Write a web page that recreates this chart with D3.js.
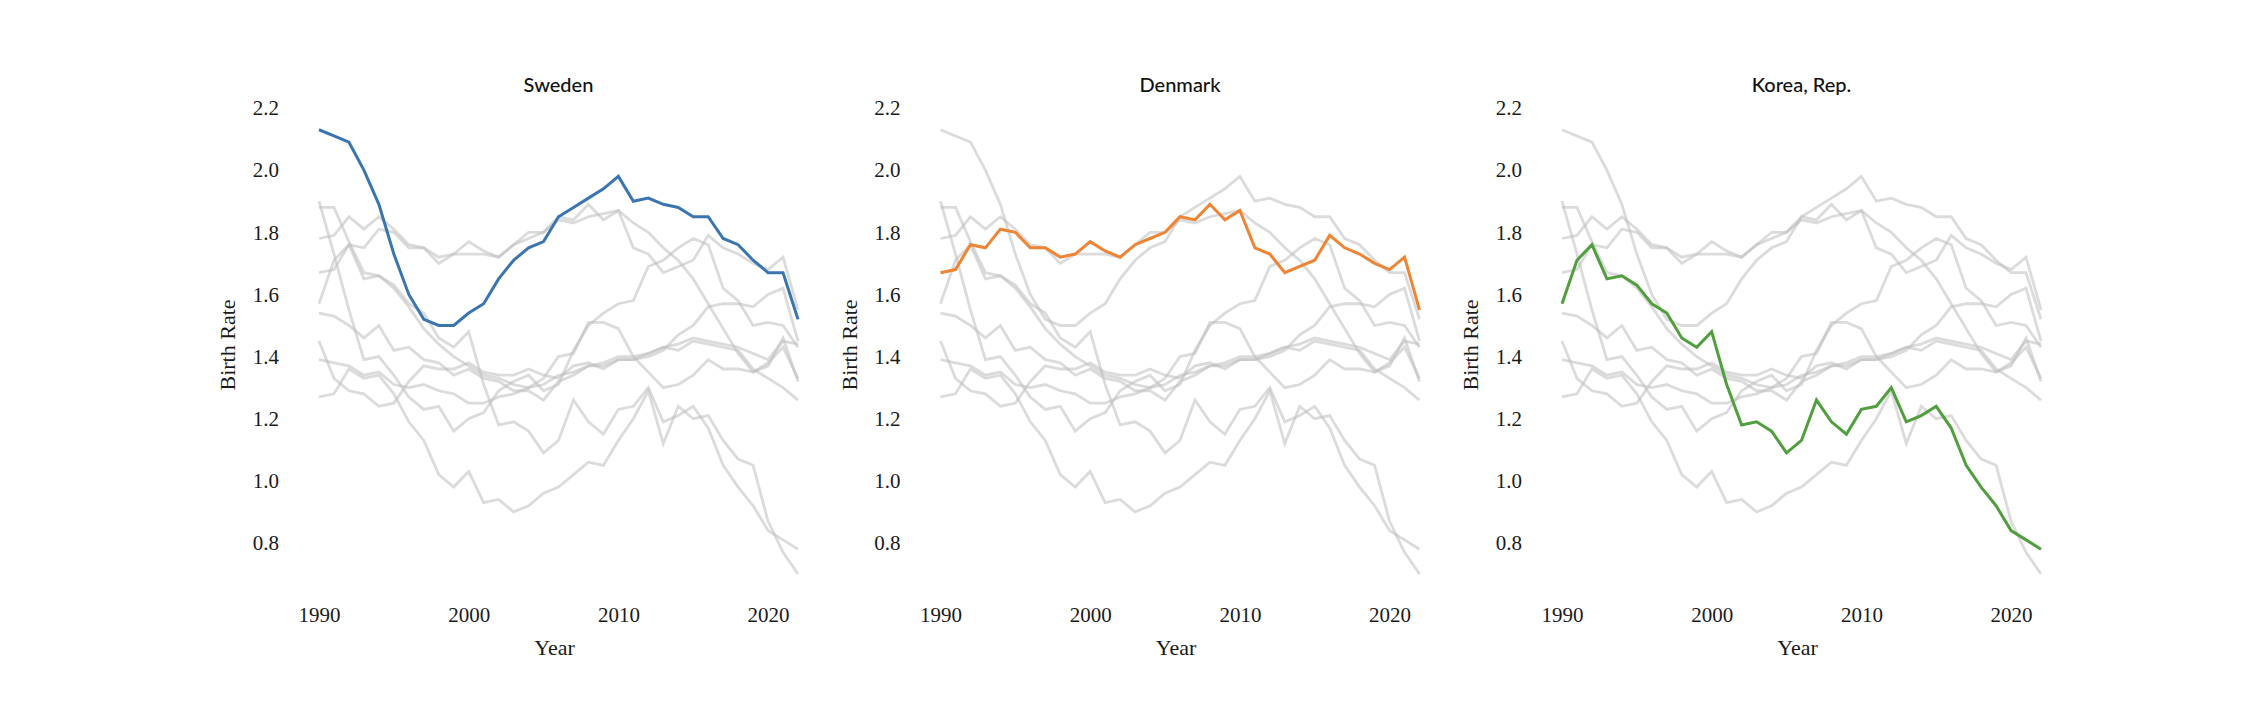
<!DOCTYPE html>
<html><head><meta charset="utf-8">
<script src="https://cdn.jsdelivr.net/npm/d3@7"></script>
<style>body{margin:0;background:#fff}</style>
</head><body>
<svg id="c" width="2250" height="724"></svg>
<script>
const years = d3.range(1990, 2023);
const countries = ["Sweden","Denmark","Korea, Rep.","Finland","Japan","Hong Kong SAR, China","Russian Federation","Greece","Germany","Other"];
const highlighted = ["Sweden","Denmark","Korea, Rep."];
const colors = ["#3a75b0","#ee8434","#519e3e"];
const sweden  = [2.13,2.11,2.09,2.00,1.89,1.73,1.60,1.52,1.50,1.50,1.54,1.57,1.65,1.71,1.75,1.77,1.85,1.88,1.91,1.94,1.98,1.90,1.91,1.89,1.88,1.85,1.85,1.78,1.76,1.71,1.67,1.67,1.52];
const denmark = [1.67,1.68,1.76,1.75,1.81,1.80,1.75,1.75,1.72,1.73,1.77,1.74,1.72,1.76,1.78,1.80,1.85,1.84,1.89,1.84,1.87,1.75,1.73,1.67,1.69,1.71,1.79,1.75,1.73,1.70,1.68,1.72,1.55];
const korea   = [1.57,1.71,1.76,1.65,1.66,1.63,1.57,1.54,1.46,1.43,1.48,1.31,1.18,1.19,1.16,1.09,1.13,1.26,1.19,1.15,1.23,1.24,1.30,1.19,1.21,1.24,1.17,1.05,0.98,0.92,0.84,0.81,0.78];
const finland = [1.78,1.79,1.85,1.81,1.85,1.81,1.76,1.75,1.70,1.73,1.73,1.73,1.72,1.76,1.80,1.80,1.84,1.83,1.85,1.86,1.87,1.83,1.80,1.75,1.71,1.65,1.57,1.49,1.41,1.35,1.37,1.46,1.32];
const japan   = [1.54,1.53,1.50,1.46,1.50,1.42,1.43,1.39,1.38,1.34,1.36,1.33,1.32,1.29,1.29,1.26,1.32,1.34,1.37,1.37,1.39,1.39,1.41,1.43,1.42,1.45,1.44,1.43,1.42,1.36,1.33,1.30,1.26];
const hongkong= [1.27,1.28,1.36,1.33,1.34,1.28,1.19,1.13,1.02,0.98,1.03,0.93,0.94,0.90,0.92,0.96,0.98,1.02,1.06,1.05,1.13,1.20,1.29,1.12,1.24,1.20,1.21,1.13,1.07,1.05,0.87,0.77,0.70];
const russia  = [1.90,1.73,1.55,1.39,1.40,1.34,1.27,1.23,1.24,1.16,1.20,1.22,1.29,1.32,1.34,1.29,1.31,1.42,1.50,1.54,1.57,1.58,1.69,1.71,1.75,1.78,1.76,1.62,1.58,1.50,1.51,1.50,1.43];
const greece  = [1.39,1.38,1.37,1.34,1.35,1.31,1.30,1.31,1.29,1.28,1.25,1.25,1.27,1.28,1.30,1.33,1.40,1.41,1.51,1.51,1.49,1.40,1.35,1.30,1.31,1.34,1.39,1.36,1.36,1.35,1.38,1.43,1.33];
const germany = [1.45,1.33,1.29,1.28,1.24,1.25,1.32,1.37,1.36,1.36,1.38,1.35,1.34,1.34,1.36,1.34,1.33,1.37,1.38,1.36,1.39,1.39,1.40,1.42,1.47,1.50,1.56,1.57,1.57,1.56,1.60,1.62,1.45];
const other   = [1.88,1.88,1.77,1.67,1.66,1.62,1.56,1.49,1.44,1.40,1.37,1.34,1.33,1.31,1.30,1.31,1.34,1.35,1.37,1.38,1.40,1.40,1.41,1.43,1.44,1.46,1.45,1.44,1.43,1.41,1.39,1.45,1.44];
const seriesValues = [sweden,denmark,korea,finland,japan,hongkong,russia,greece,germany,other];
const yTicks = [0.8,1.0,1.2,1.4,1.6,1.8,2.0,2.2];
const xTicks = [1990,2000,2010,2020];

const svg = d3.select("#c");
const panelLeft = [319, 940.5, 1562], panelW = 479;
const y = d3.scaleLinear().domain([0.8,2.2]).range([543,108]);
const serif = "'Liberation Serif', 'DejaVu Serif', serif";
const sans = "Lato, 'Noto Sans', sans-serif";

highlighted.forEach((name, pi) => {
  const x = d3.scaleLinear().domain([1990,2022]).range([panelLeft[pi], panelLeft[pi]+panelW]);
  const g = svg.append("g");
  const line = d3.line().x((d,i)=>x(years[i])).y(d=>y(d));
  const hi = countries.indexOf(name);
  seriesValues.forEach((vals, ci) => {
    if (ci === hi) return;
    g.append("path").attr("d", line(vals)).attr("fill","none")
      .attr("stroke","#bdbdbd").attr("stroke-opacity",0.55).attr("stroke-width",2.8);
  });
  g.append("path").attr("d", line(seriesValues[hi])).attr("fill","none")
    .attr("stroke", colors[pi]).attr("stroke-width",3);

  const ya = d3.axisLeft(y).tickValues(yTicks).tickFormat(d3.format(".1f")).tickSize(0).tickPadding(0);
  const yg = g.append("g").attr("transform",`translate(${panelLeft[pi]-40},0)`).call(ya);
  yg.select(".domain").remove();
  yg.selectAll("text").attr("font-family",serif).attr("font-size",21).attr("fill","#1a1a1a");

  const xa = d3.axisBottom(x).tickValues(xTicks).tickFormat(d3.format("d")).tickSize(0).tickPadding(0);
  const xg = g.append("g").attr("transform",`translate(0,607)`).call(xa);
  xg.select(".domain").remove();
  xg.selectAll("text").attr("font-family",serif).attr("font-size",21).attr("fill","#1a1a1a");

  g.append("text").attr("x", panelLeft[pi]+panelW/2).attr("y", 92).attr("text-anchor","middle")
    .attr("font-family",sans).attr("font-size",20).attr("font-weight",500).attr("fill","#111").text(name);
  g.append("text").attr("x", panelLeft[pi]+panelW/2 - 4).attr("y", 655).attr("text-anchor","middle")
    .attr("font-family",serif).attr("font-size",22).attr("fill","#1a1a1a").text("Year");
  g.append("text").attr("transform",`translate(${panelLeft[pi]-84},345) rotate(-90)`).attr("text-anchor","middle")
    .attr("font-family",serif).attr("font-size",22).attr("fill","#1a1a1a").text("Birth Rate");
});
</script>
</body></html>
